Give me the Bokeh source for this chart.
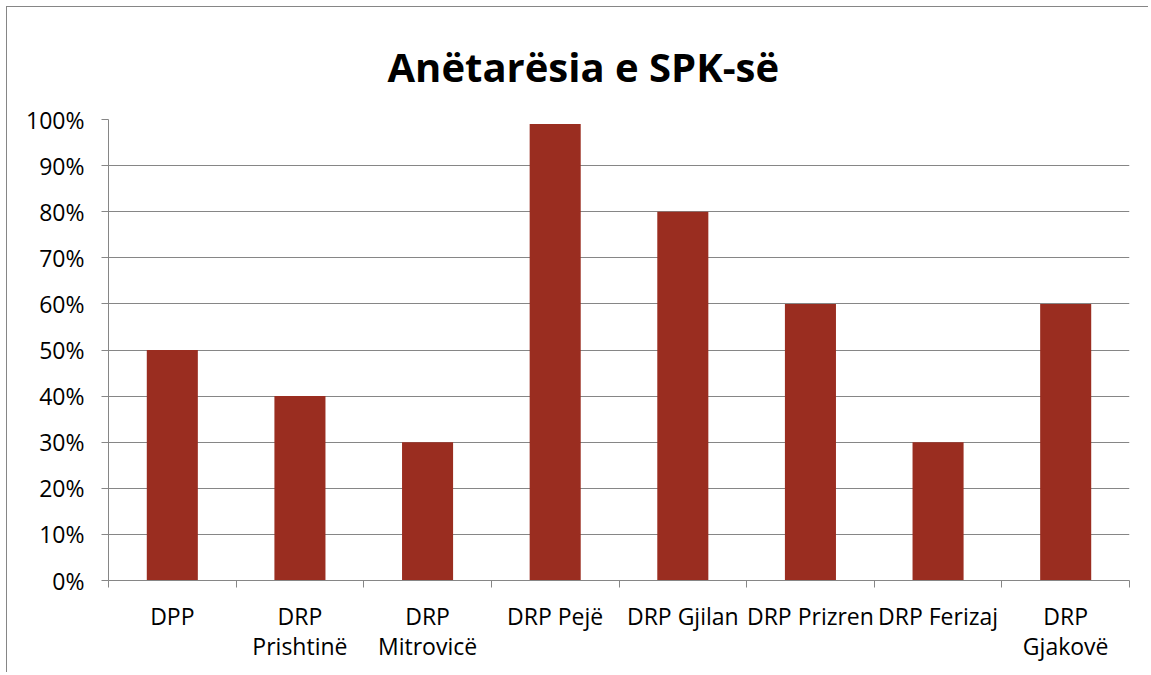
from bokeh.plotting import figure
from bokeh.models import (Range1d, FixedTicker, NumeralTickFormatter, CustomJSTickFormatter,
                          Title, ColumnDataSource)
from bokeh.embed import file_html
from bokeh.resources import INLINE

title_text = "Anëtarësia e SPK-së"
categories = ["DPP", "DRP\nPrishtinë", "DRP\nMitrovicë", "DRP Pejë", "DRP Gjilan",
              "DRP Prizren", "DRP Ferizaj", "DRP\nGjakovë"]
values = [0.50, 0.40, 0.30, 0.99, 0.80, 0.60, 0.30, 0.60]
y_ticks = [0.0, 0.1, 0.2, 0.3, 0.4, 0.5, 0.6, 0.7, 0.8, 0.9, 1.0]

FONT = "Open Sans"
GRAY = "#868686"
BAR = "#9A2D20"

n = len(categories)
pos = [i + 0.5 for i in range(n)]
src = ColumnDataSource(dict(x=pos, top=values))

p = figure(width=1142, height=666, output_backend="svg", toolbar_location=None,
           x_range=Range1d(0, n), y_range=Range1d(0, 1.0),
           min_border_left=101, min_border_right=20, min_border_top=112, min_border_bottom=93)
p.title = None
p.styles = {"border-left": "1px solid #868686", "border-top": "1px solid #868686",
            "margin-left": "6px", "margin-top": "6px"}
p.outline_line_color = None
p.background_fill_color = "white"
p.border_fill_color = "white"

p.vbar(x="x", top="top", width=0.4, bottom=0, source=src, fill_color=BAR, line_color=None)

# y axis
p.yaxis.ticker = FixedTicker(ticks=y_ticks)
p.yaxis.formatter = NumeralTickFormatter(format="0%")
p.yaxis.axis_line_color = GRAY
p.yaxis.major_tick_line_color = GRAY
p.yaxis.major_tick_out = 7
p.yaxis.major_tick_in = 0
p.yaxis.minor_tick_line_color = None
p.yaxis.major_label_text_font = FONT
p.yaxis.major_label_text_font_size = "23px"
p.yaxis.major_label_text_color = "black"
p.yaxis.major_label_standoff = 17

# x axis
p.xaxis.ticker = FixedTicker(ticks=pos, minor_ticks=list(range(n + 1)))
p.xaxis.formatter = CustomJSTickFormatter(args=dict(labels=categories),
                                          code="return labels[Math.floor(tick)];")
p.xaxis.axis_line_color = GRAY
p.xaxis.major_tick_line_color = None
p.xaxis.minor_tick_line_color = GRAY
p.xaxis.minor_tick_out = 7
p.xaxis.minor_tick_in = 0
p.xaxis.major_label_text_font = FONT
p.xaxis.major_label_text_font_size = "23px"
p.xaxis.major_label_text_color = "black"
p.xaxis.major_label_standoff = 12
p.xaxis.major_label_text_line_height = 0.95

p.xgrid.grid_line_color = None
p.ygrid.ticker = FixedTicker(ticks=y_ticks)
p.ygrid.grid_line_color = GRAY
p.ygrid.grid_line_width = 1

title = Title(text=title_text, align="left", offset=279, standoff=48, vertical_align="top",
              text_font=FONT, text_font_size="40px", text_font_style="bold",
              text_color="black")
p.add_layout(title, "above")

open("out.html", "w").write(file_html(p, INLINE))
